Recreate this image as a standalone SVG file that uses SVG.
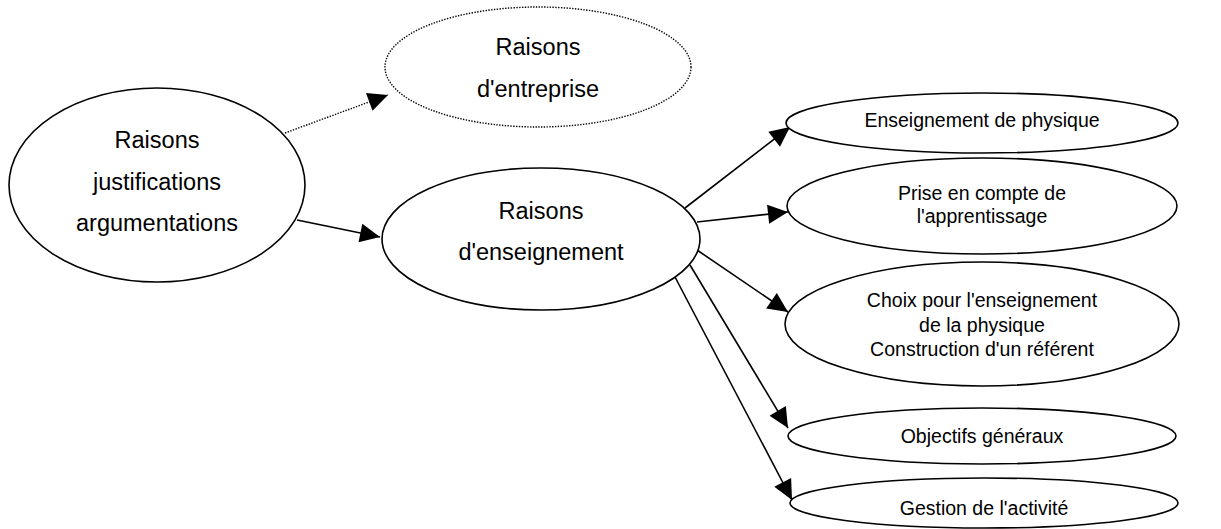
<svg xmlns="http://www.w3.org/2000/svg" width="1221" height="529" viewBox="0 0 1221 529">
<style>
.n{fill:#fff;stroke:#000;stroke-width:1.6}
.d{fill:#fff;stroke:#000;stroke-width:1.4;stroke-dasharray:1.4 1.4}
.big{font-family:"Liberation Sans",Arial,sans-serif;font-size:23.5px;fill:#000;text-anchor:middle}
.sm{font-family:"Liberation Sans",Arial,sans-serif;font-size:19.5px;fill:#000;text-anchor:middle}
.c{stroke:#000;stroke-width:1.6;fill:none;marker-end:url(#ah)}
.cd{stroke:#000;stroke-width:1.4;fill:none;stroke-dasharray:1.4 1.4;marker-end:url(#ah)}
</style>
<defs>
<marker id="ah" markerUnits="userSpaceOnUse" markerWidth="22" markerHeight="22" refX="21" refY="11" orient="auto">
<path d="M1,1.5 L21,11 L1,20.5 Z" fill="#000"/>
</marker>
</defs>
<rect width="1221" height="529" fill="#fff"/>
<g id="connectors">
<line class="cd" x1="285" y1="133" x2="388" y2="95"/>
<line class="c" x1="297" y1="220" x2="380" y2="237"/>
<line class="c" x1="685" y1="208" x2="790" y2="127"/>
<line class="c" x1="697" y1="222" x2="788" y2="212"/>
<line class="c" x1="697" y1="250" x2="788" y2="312"/>
<line class="c" x1="690" y1="265" x2="788" y2="428"/>
<line class="c" x1="675" y1="277" x2="792" y2="500"/>
</g>
<g id="raisons-justifications">
<ellipse class="n" cx="157" cy="185" rx="148" ry="97"/>
<text class="big" x="157" y="148">Raisons</text>
<text class="big" x="157" y="190">justifications</text>
<text class="big" x="157" y="231">argumentations</text>
</g>
<g id="raisons-entreprise">
<ellipse class="d" cx="538" cy="67" rx="153" ry="60"/>
<text class="big" x="538" y="55">Raisons</text>
<text class="big" x="538" y="97">d'entreprise</text>
</g>
<g id="raisons-enseignement">
<ellipse class="n" cx="541" cy="239" rx="159" ry="71"/>
<text class="big" x="541" y="219">Raisons</text>
<text class="big" x="541" y="260">d'enseignement</text>
</g>
<g id="enseignement-physique">
<ellipse class="n" cx="982" cy="123" rx="196" ry="30"/>
<text class="sm" x="982" y="127">Enseignement de physique</text>
</g>
<g id="prise-en-compte">
<ellipse class="n" cx="982" cy="206" rx="195" ry="48"/>
<text class="sm" x="982" y="200">Prise en compte de</text>
<text class="sm" x="982" y="223">l'apprentissage</text>
</g>
<g id="choix">
<ellipse class="n" cx="982" cy="324" rx="197" ry="62"/>
<text class="sm" x="982" y="307">Choix pour l'enseignement</text>
<text class="sm" x="982" y="332">de la physique</text>
<text class="sm" x="982" y="356">Construction d'un référent</text>
</g>
<g id="objectifs">
<ellipse class="n" cx="982" cy="436" rx="194" ry="28"/>
<text class="sm" x="982" y="443">Objectifs généraux</text>
</g>
<g id="gestion">
<ellipse class="n" cx="984" cy="503" rx="194" ry="25"/>
<text class="sm" x="984" y="515">Gestion de l'activité</text>
</g>
</svg>
